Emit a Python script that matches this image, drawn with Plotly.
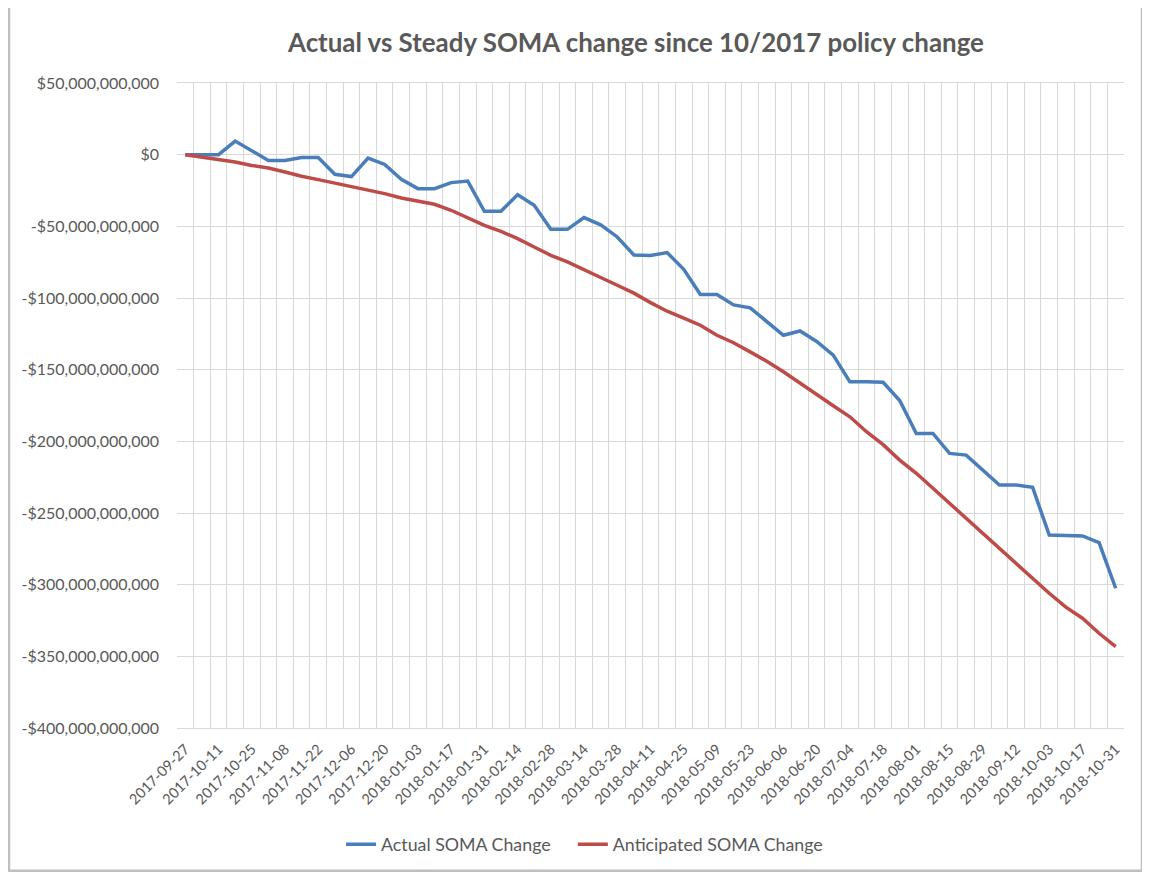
import plotly.graph_objects as go

# ---- data (values in billions of dollars) ----
dates = [
    "2017-09-27", "2017-10-04", "2017-10-11", "2017-10-18", "2017-10-25",
    "2017-11-01", "2017-11-08", "2017-11-15", "2017-11-22", "2017-11-29",
    "2017-12-06", "2017-12-13", "2017-12-20", "2017-12-27", "2018-01-03",
    "2018-01-10", "2018-01-17", "2018-01-24", "2018-01-31", "2018-02-07",
    "2018-02-14", "2018-02-21", "2018-02-28", "2018-03-07", "2018-03-14",
    "2018-03-21", "2018-03-28", "2018-04-04", "2018-04-11", "2018-04-18",
    "2018-04-25", "2018-05-02", "2018-05-09", "2018-05-16", "2018-05-23",
    "2018-05-30", "2018-06-06", "2018-06-13", "2018-06-20", "2018-06-27",
    "2018-07-04", "2018-07-11", "2018-07-18", "2018-07-25", "2018-08-01",
    "2018-08-08", "2018-08-15", "2018-08-22", "2018-08-29", "2018-09-05",
    "2018-09-12", "2018-09-26", "2018-10-03", "2018-10-10", "2018-10-17",
    "2018-10-24", "2018-10-31",
]

actual_bn = [
    0, 0, 0, 9.5, 3, -4, -4, -2, -2, -13.7,
    -15.3, -2.4, -6.8, -17.2, -23.7, -23.7, -19.5, -18.4, -39.5, -39.5,
    -27.9, -35.3, -52.1, -52.1, -43.9, -49, -57.4, -70, -70.3, -68.3,
    -80, -97.6, -97.6, -104.8, -106.9, -116.7, -126, -123, -130.3, -139.9,
    -158.5, -158.5, -158.8, -171.5, -194.5, -194.5, -208.4, -209.6, -220, -230.5,
    -230.5, -232.1, -265.4, -265.4, -266, -270.7, -302.5,
]

anticipated_bn = [
    0, -1.6, -3.5, -5.1, -7.5, -9.3, -12.1, -15.1, -17.4, -19.8,
    -22.6, -24.9, -27.2, -30.2, -32.2, -34.6, -38.8, -44.2, -49.3, -53.5,
    -58.6, -64.4, -70.2, -74.8, -80.5, -85.7, -91.1, -96.6, -103.2, -109.2,
    -114, -119, -126, -131.2, -137.6, -144.1, -151.5, -159.6, -167.8, -175.2,
    -182.9, -193.3, -202.3, -213.1, -222.3, -232.8, -242.8, -253.7, -264.2, -274.6,
    -285.1, -295.5, -306, -315.7, -323.4, -333.9, -343.2,
]

y_ticks_bn = [50, 0, -50, -100, -150, -200, -250, -300, -350, -400]

series_names = ["Actual SOMA Change", "Anticipated SOMA Change"]
title_text = "Actual vs Steady SOMA change since 10/2017 policy change"

# ---- styling ----
FONT = "Lato"
TEXT = "#595959"
GRID = "#D9D9D9"
BLUE = "#4A7EBB"
RED = "#BE4B48"


def money(v_bn):
    v = int(round(v_bn * 1e9))
    return ("-$" if v < 0 else "$") + f"{abs(v):,}"


actual = [v * 1e9 for v in actual_bn]
anticipated = [v * 1e9 for v in anticipated_bn]

fig = go.Figure()
fig.add_trace(go.Scatter(x=dates, y=actual, mode="lines", name=series_names[0],
                         line=dict(color=BLUE, width=3.5), legend="legend"))
fig.add_trace(go.Scatter(x=dates, y=anticipated, mode="lines", name=series_names[1],
                         line=dict(color=RED, width=3.5), legend="legend2"))

tick_text = [d if i % 2 == 0 else "" for i, d in enumerate(dates)]

legend_common = dict(orientation="h", yanchor="middle", y=-0.181, xanchor="left",
                     font=dict(family=FONT, size=17.8, color=TEXT),
                     bgcolor="rgba(0,0,0,0)")

fig.update_layout(
    width=1142, height=866,
    paper_bgcolor="white", plot_bgcolor="white",
    margin=dict(l=169, r=26, t=75, b=146, autoexpand=False),
    font=dict(family=FONT, color=TEXT, size=15),
    title=dict(text=f"<b>{title_text}</b>", x=0.5499, xanchor="center",
               y=0.9596, yanchor="middle",
               font=dict(family=FONT, size=25.9, color=TEXT)),
    showlegend=True,
    legend=dict(x=0.1732, **legend_common),
    legend2=dict(x=0.418, **legend_common),
    xaxis=dict(type="category", categoryorder="array", categoryarray=dates,
               range=[-0.5, len(dates) - 0.5], automargin=False,
               tickmode="array", tickvals=dates, ticktext=tick_text,
               tickson="boundaries", ticks="", tickangle=-45,
               ticklabelstandoff=6,
               showgrid=True, gridcolor=GRID, gridwidth=1,
               showline=True, linecolor=GRID, linewidth=1, mirror=True,
               zeroline=False, tickfont=dict(family=FONT, size=14.5, color=TEXT)),
    yaxis=dict(range=[-400e9, 50e9], tickmode="array", automargin=False,
               tickvals=[v * 1e9 for v in y_ticks_bn],
               ticktext=[money(v) for v in y_ticks_bn],
               showgrid=True, gridcolor=GRID, gridwidth=1,
               zeroline=False, showline=False, ticks="", ticklen=0,
               ticklabelstandoff=17,
               tickfont=dict(family=FONT, size=16, color=TEXT)),
)

# outer chart border
fig.add_shape(type="rect", xref="paper", yref="paper",
              x0=-0.1774, x1=1.019, y0=-0.2212, y1=1.126,
              line=dict(color="#BFBFBF", width=2.5), fillcolor="rgba(0,0,0,0)",
              layer="below")

fig.write_html("out.html", config={"displayModeBar": False})
